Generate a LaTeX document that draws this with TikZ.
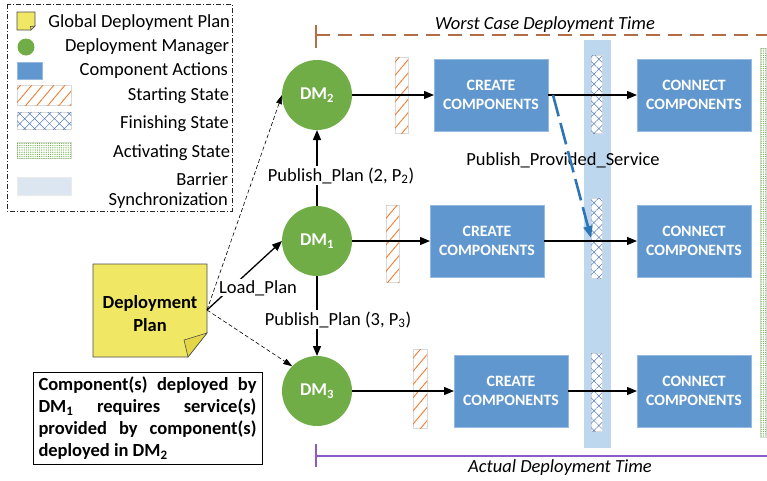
\documentclass[tikz,border=0pt]{standalone}
\usepackage{fontspec}
\setmainfont{Carlito}
\usetikzlibrary{arrows.meta,patterns.meta}
\definecolor{dmgreen}{RGB}{112,173,71}
\definecolor{boxblue}{RGB}{96,151,206}
\definecolor{boxedge}{RGB}{150,185,225}
\definecolor{barrierblue}{RGB}{189,215,238}
\definecolor{legbarrier}{RGB}{220,230,241}
\definecolor{noteyellow}{RGB}{240,232,100}
\definecolor{notefold}{RGB}{228,214,70}
\definecolor{hatchorange}{RGB}{240,125,50}
\definecolor{hatchblue}{RGB}{85,125,190}
\definecolor{dotgreen}{RGB}{100,175,60}
\definecolor{wcbrown}{RGB}{180,110,70}
\definecolor{adpurple}{RGB}{140,90,200}
\definecolor{pubblue}{RGB}{46,117,182}
\begin{document}
\begin{tikzpicture}[x=1pt,y=-1pt,
  every node/.style={inner sep=0pt, outer sep=0pt},
  txt/.style={font=\fontsize{18.5}{22}\selectfont},
  txtb/.style={font=\fontsize{18.5}{23}\selectfont\bfseries},
  lbl/.style={txt, anchor=base, fill=white, inner sep=1pt},
  legframe/.style={draw=black!85, line width=0.7pt, dash pattern=on 5pt off 2pt on 1pt off 2pt},
  notestyle/.style={draw=black!70, fill=noteyellow, line width=0.6pt},
  notefoldstyle/.style={draw=black!70, fill=notefold, line width=0.6pt},
  dmnode/.style={circle, fill=dmgreen, minimum size=70pt, text=white, font=\fontsize{18}{20}\selectfont\bfseries},
  actbox/.style={rectangle, fill=boxblue, draw=boxedge, line width=0.6pt, minimum width=114pt, minimum height=72pt, text=white, align=center, font=\fontsize{15.8}{19}\selectfont\bfseries},
  startbar/.style={rectangle, draw=black!15, fill=white, line width=0.5pt, postaction={pattern={Lines[angle=50,distance=8.5pt,line width=0.9pt]}, pattern color=hatchorange}},
  finbar/.style={rectangle, draw=black!15, fill=white, line width=0.5pt, postaction={pattern={Hatch[angle=45,distance=7pt,line width=0.5pt]}, pattern color=hatchblue}},
  activbar/.style={rectangle, draw=black!15, fill=white, line width=0.5pt, postaction={pattern={Dots[distance=2.2pt,radius=0.6pt]}, pattern color=dotgreen}},
  arr/.style={draw=black, line width=1.3pt, -{Triangle[length=10pt,width=8pt]}},
  dasharr/.style={draw=black, line width=0.6pt, dash pattern=on 4pt off 2.5pt, -{Triangle[length=9pt,width=6pt]}},
  pubarr/.style={draw=pubblue, line width=2.6pt, dash pattern=on 22pt off 7pt, -{Triangle[length=12pt,width=9pt]}},
  wcdash/.style={draw=wcbrown, line width=1.2pt, dash pattern=on 14pt off 8pt}
]
\useasboundingbox (0,0) rectangle (767,480);

% ---------- legend ----------
\draw[legframe] (7,4) rectangle (232,211);
\draw[notestyle] (17,12) -- (35,12) -- (35,26) -- (31,30) -- (17,30) -- cycle;
\draw[notefoldstyle] (31,30) -- (30.5,26.5) -- (35,26) -- cycle;
\node[circle, fill=dmgreen, minimum size=17pt] (lgdm) at (26,47) {};
\node[rectangle, fill=boxblue, draw=boxedge, line width=0.6pt, minimum width=25pt, minimum height=17pt] (lgact) at (29.5,70.5) {};
\node[startbar, minimum width=54pt, minimum height=20pt] (lgst) at (44,95) {};
\node[finbar, minimum width=54pt, minimum height=17pt] (lgfin) at (44,120.5) {};
\node[activbar, minimum width=54pt, minimum height=16pt] (lgav) at (44,150) {};
\node[rectangle, fill=legbarrier, draw=black!8, minimum width=54pt, minimum height=18pt] (lgbar) at (44,186) {};

\node[txt, anchor=base east] (t1) at (230,27) {Global Deployment Plan};
\node[txt, anchor=base east] (t2) at (229,51) {Deployment Manager};
\node[txt, anchor=base east] (t3) at (228,75) {Component Actions};
\node[txt, anchor=base east] (t4) at (229,100) {Starting State};
\node[txt, anchor=base east] (t5) at (229,128) {Finishing State};
\node[txt, anchor=base east] (t6) at (230,157) {Activating State};
\node[txt, anchor=base east] (t7) at (228,185) {Barrier};
\node[txt, anchor=base east] (t8) at (228,205) {Synchronization};

% ---------- time lines ----------
\coordinate (wcL) at (316,35);
\coordinate (wcR) at (767,35);
\draw[wcbrown, line width=1.1pt] (316,25) -- (316,48);
\draw[wcdash] (wcL) -- (wcR);
\node[txt, font=\fontsize{18.5}{22}\selectfont\itshape, anchor=base] (wct) at (545,29) {Worst Case Deployment Time};

\coordinate (adL) at (316,456);
\coordinate (adR) at (767,456);
\draw[adpurple, line width=1.1pt] (316,444) -- (316,467);
\draw[adpurple, line width=1.1pt] (adL) -- (adR);
\node[txt, font=\fontsize{18.5}{22}\selectfont\itshape, anchor=base] (adt) at (560,472) {Actual Deployment Time};

% ---------- barrier & state bars ----------
\node[rectangle, fill=barrierblue, minimum width=27pt, minimum height=408pt] (barrier) at (597.5,244) {};
\node[activbar, minimum width=6pt, minimum height=389pt] (activ) at (763,242.5) {};

\node[startbar, minimum width=13pt, minimum height=76pt] (st2) at (401.5,95) {};
\node[startbar, minimum width=13pt, minimum height=77pt] (st1) at (392.5,243.5) {};
\node[startbar, minimum width=14pt, minimum height=79pt] (st3) at (420,388.5) {};
\node[finbar, minimum width=11pt, minimum height=78pt] (fin2) at (596.5,94) {};
\node[finbar, minimum width=11pt, minimum height=80pt] (fin1) at (596.5,238) {};
\node[finbar, minimum width=11pt, minimum height=78pt] (fin3) at (596.5,392) {};

% ---------- DMs and boxes ----------
\node[dmnode] (dm2) at (317,95) {DM\textsubscript{2}};
\node[dmnode] (dm1) at (317,241) {DM\textsubscript{1}};
\node[dmnode] (dm3) at (317,391) {DM\textsubscript{3}};

\node[actbox] (create2) at (491,95) {CREATE\\COMPONENTS};
\node[actbox] (create1) at (487,241) {CREATE\\COMPONENTS};
\node[actbox] (create3) at (511,391) {CREATE\\COMPONENTS};
\node[actbox] (connect2) at (694,95) {CONNECT\\COMPONENTS};
\node[actbox] (connect1) at (694,241) {CONNECT\\COMPONENTS};
\node[actbox] (connect3) at (694,391) {CONNECT\\COMPONENTS};

% ---------- deployment plan note ----------
\draw[notestyle] (93,264) -- (207,264) -- (207,333) -- (188,357) -- (93,357) -- cycle;
\draw[notefoldstyle] (188,357) -- (184,340) -- (207,333) -- cycle;
\node[txtb, align=center] (dptxt) at (150,314) {Deployment\\Plan};
\coordinate (dpout) at (207,310);

% ---------- explanation box ----------
\node[draw=black, line width=0.8pt, minimum width=229pt, minimum height=92pt] (expl) at (147.5,418)
  {\parbox{218pt}{\fontsize{18.5}{22}\selectfont\bfseries
   \makebox[218pt][s]{Component(s) deployed by}\\
   \makebox[218pt][s]{DM\textsubscript{1} requires service(s)}\\
   \makebox[218pt][s]{provided by component(s)}\\
   deployed in DM\textsubscript{2}}};

% ---------- connectors ----------
\draw[arr] (dm2) -- (create2);
\draw[arr] (dm1) -- (create1);
\draw[arr] (dm3) -- (create3);
\draw[arr] (create2) -- (connect2);
\draw[arr] (create1) -- (connect1);
\draw[arr] (create3) -- (connect3);

\draw[arr] (dm1) -- (dm2);
\draw[arr] (dm1) -- (dm3);
\node[lbl] (pp2) at (341,181) {Publish\_Plan (2, P\textsubscript{2})};
\node[lbl] (pp3) at (338,325) {Publish\_Plan (3, P\textsubscript{3})};

\draw[dasharr] (dpout) -- (dm2.west);
\draw[dasharr] (dpout) -- (dm3.north west);
\draw[arr] (dpout) -- (dm1.west);
\node[lbl] (lp) at (258,293) {Load\_Plan};

\node[txt, anchor=base] (pps) at (563,165) {Publish\_Provided\_Service};
\draw[pubarr] ([xshift=5pt]create2.east) -- (fin1.west);
\end{tikzpicture}
\end{document}
